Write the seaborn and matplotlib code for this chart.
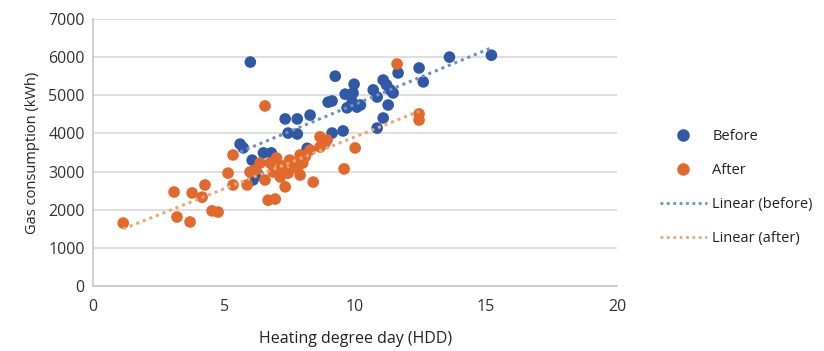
import numpy as np
import pandas as pd
import matplotlib
matplotlib.use("Agg")
import matplotlib.pyplot as plt
from matplotlib.lines import Line2D
import seaborn as sns

# Data
before_hdd = [6.0, 5.61, 5.73, 6.07, 6.1, 6.3, 6.2, 6.5, 6.8, 7.33, 7.44, 7.79, 7.79,
              8.17, 8.28, 8.97, 9.12, 9.12, 9.24, 9.54, 9.62, 9.69, 9.89, 9.92, 9.96,
              10.07, 10.2, 10.69, 10.84, 10.84, 11.07, 11.07, 11.2, 11.26, 11.34, 11.45,
              11.64, 12.44, 12.6, 13.6, 15.2]
before_gas = [5870, 3720, 3620, 3300, 2780, 2910, 3040, 3490, 3490, 4380, 4010, 4380, 3985,
              3610, 4480, 4820, 4850, 4010, 5500, 4065, 5030, 4670, 4820, 5060, 5290,
              4690, 4745, 5140, 4955, 4140, 5400, 4405, 5270, 4745, 5140, 5060,
              5585, 5715, 5350, 6000, 6050]

after_hdd = [1.15, 3.09, 3.2, 3.7, 3.78, 4.16, 4.27, 4.54, 4.77, 5.15, 5.34, 5.34, 5.99,
             5.88, 6.37, 6.56, 6.56, 6.68, 6.76, 6.87, 6.95, 7.0, 7.14, 7.33, 7.44, 7.5,
             7.63, 7.79, 7.9, 7.9, 8.0, 8.28, 8.4, 8.66, 8.66, 8.85, 8.93, 9.58, 10.0,
             11.6, 12.44, 12.44, 6.2, 7.2, 8.1]
after_gas = [1650, 2465, 1810, 1680, 2440, 2330, 2650, 1970, 1940, 2960, 3435, 2650, 2990,
             2650, 3225, 2780, 4720, 2250, 3225, 2990, 2280, 3355, 2860, 2600, 2960, 3300,
             3225, 3100, 3435, 2910, 3225, 3565, 2725, 3645, 3910, 3750, 3830, 3070, 3620,
             5820, 4510, 4350, 3050, 3150, 3400]

blue = "#2f58a6"
orange = "#e2692b"
blue_line = "#6f8fc0"
orange_line = "#e9a878"

df = pd.concat([
    pd.DataFrame({"HDD": before_hdd, "Gas": before_gas, "Period": "Before"}),
    pd.DataFrame({"HDD": after_hdd, "Gas": after_gas, "Period": "After"}),
])

sns.set_style("white")
plt.rcParams["font.family"] = ["Open Sans", "DejaVu Sans"]

fig = plt.figure(figsize=(8.24, 3.51), dpi=100)
ax = fig.add_axes([0.113, 0.185, 0.636, 0.761])

sns.scatterplot(data=df, x="HDD", y="Gas", hue="Period",
                palette={"Before": blue, "After": orange},
                s=70, linewidth=0, ax=ax, legend=False, zorder=3)

# linear trend lines over each data range
sns.regplot(x=before_hdd, y=before_gas, scatter=False, ci=None, ax=ax,
            line_kws={"color": blue_line, "linestyle": (0, (1, 1.3)), "linewidth": 2.2, "zorder": 4})
sns.regplot(x=after_hdd, y=after_gas, scatter=False, ci=None, ax=ax,
            line_kws={"color": orange_line, "linestyle": (0, (1, 1.3)), "linewidth": 2.2, "zorder": 4})

ax.set_xlim(0, 20)
ax.set_ylim(0, 7000)
ax.set_xticks(range(0, 21, 5))
ax.set_yticks(range(0, 7001, 1000))
ax.yaxis.grid(True, color="#d9d9d9", linewidth=1.2)
ax.xaxis.grid(False)
for side in ["top", "right"]:
    ax.spines[side].set_visible(False)
for side in ["left", "bottom"]:
    ax.spines[side].set_color("#c8c8c8")
    ax.spines[side].set_linewidth(1.2)
ax.tick_params(axis="both", length=0, labelsize=11.5, colors="#333333", pad=6)
ax.tick_params(axis="x", pad=9)
ax.set_xlabel("Heating degree day (HDD)", fontsize=11.5, color="#222222", labelpad=12)
ax.set_ylabel("Gas consumption (kWh)", fontsize=10.5, color="#222222", labelpad=6)

handles = [
    Line2D([], [], marker="o", linestyle="none", color=blue, markersize=8),
    Line2D([], [], marker="o", linestyle="none", color=orange, markersize=8),
    Line2D([], [], color=blue_line, linestyle=(0, (1, 1.3)), linewidth=2),
    Line2D([], [], color=orange_line, linestyle=(0, (1, 1.3)), linewidth=2),
]
labels = ["Before", "After", "Linear (before)", "Linear (after)"]
fig.legend(handles, labels, loc="center left", bbox_to_anchor=(0.785, 0.465),
           frameon=False, fontsize=10.5, labelspacing=1.3, handlelength=3.2,
           handletextpad=0.4, labelcolor="#222222")

fig.savefig("out.png", dpi=100)
